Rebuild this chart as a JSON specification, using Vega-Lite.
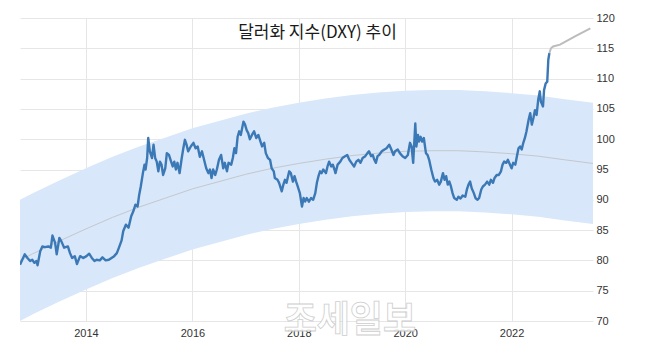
{
  "$schema": "https://vega.github.io/schema/vega-lite/v6.json",
  "autosize": "none",
  "width": 573,
  "height": 303,
  "padding": {"left": 20, "top": 18, "right": 54, "bottom": 34},
  "background": "white",
  "title": {"text": "달러화 지수(DXY) 추이", "orient": "top", "anchor": "middle", "frame": "group", "offset": -30, "dx": 11, "font": "Noto Sans CJK KR", "fontSize": 17, "fontWeight": "normal", "color": "#1a1a1a"},
  "datasets": {
    "band": [
      {"t": 2012.76, "lo": 70.0, "mid": 80.0, "hi": 90.0},
      {"t": 2013.0, "lo": 71.1, "mid": 81.1, "hi": 91.1},
      {"t": 2013.5, "lo": 73.2, "mid": 83.2, "hi": 93.2},
      {"t": 2014.0, "lo": 75.2, "mid": 85.2, "hi": 95.2},
      {"t": 2014.5, "lo": 77.1, "mid": 87.1, "hi": 97.1},
      {"t": 2015.0, "lo": 78.8, "mid": 88.8, "hi": 98.8},
      {"t": 2015.5, "lo": 80.3, "mid": 90.3, "hi": 100.3},
      {"t": 2016.0, "lo": 81.8, "mid": 91.8, "hi": 101.8},
      {"t": 2016.5, "lo": 83.0, "mid": 93.0, "hi": 103.0},
      {"t": 2017.0, "lo": 84.2, "mid": 94.2, "hi": 104.2},
      {"t": 2017.5, "lo": 85.2, "mid": 95.2, "hi": 105.2},
      {"t": 2018.0, "lo": 86.0, "mid": 96.0, "hi": 106.0},
      {"t": 2018.5, "lo": 86.7, "mid": 96.7, "hi": 106.7},
      {"t": 2019.0, "lo": 87.3, "mid": 97.3, "hi": 107.3},
      {"t": 2019.5, "lo": 87.7, "mid": 97.7, "hi": 107.7},
      {"t": 2020.0, "lo": 88.0, "mid": 98.0, "hi": 108.0},
      {"t": 2020.5, "lo": 88.1, "mid": 98.1, "hi": 108.1},
      {"t": 2021.0, "lo": 88.1, "mid": 98.1, "hi": 108.1},
      {"t": 2021.5, "lo": 87.9, "mid": 97.9, "hi": 107.9},
      {"t": 2022.0, "lo": 87.6, "mid": 97.6, "hi": 107.6},
      {"t": 2022.5, "lo": 87.2, "mid": 97.2, "hi": 107.2},
      {"t": 2023.0, "lo": 86.6, "mid": 96.6, "hi": 106.6},
      {"t": 2023.53, "lo": 86.0, "mid": 96.0, "hi": 106.0}
    ],
    "fc": [
      {"t": 2022.71, "v": 114.2},
      {"t": 2022.74, "v": 115.0},
      {"t": 2022.78, "v": 115.3},
      {"t": 2022.91, "v": 115.6},
      {"t": 2023.2, "v": 117.0},
      {"t": 2023.48, "v": 118.3}
    ],
    "dxy": [
      {"t": 2012.76, "v": 79.3}, {"t": 2012.85, "v": 81.0}, {"t": 2012.9, "v": 80.4}, {"t": 2012.95, "v": 79.9},
      {"t": 2012.99, "v": 80.1}, {"t": 2013.03, "v": 79.6}, {"t": 2013.07, "v": 79.9}, {"t": 2013.09, "v": 79.2},
      {"t": 2013.14, "v": 81.5}, {"t": 2013.18, "v": 82.3}, {"t": 2013.23, "v": 82.2}, {"t": 2013.29, "v": 82.3},
      {"t": 2013.34, "v": 82.1}, {"t": 2013.37, "v": 84.1}, {"t": 2013.42, "v": 82.9}, {"t": 2013.45, "v": 81.0},
      {"t": 2013.5, "v": 83.7}, {"t": 2013.54, "v": 83.1}, {"t": 2013.59, "v": 82.1}, {"t": 2013.66, "v": 82.3},
      {"t": 2013.7, "v": 81.2}, {"t": 2013.74, "v": 80.4}, {"t": 2013.79, "v": 80.7}, {"t": 2013.83, "v": 79.4},
      {"t": 2013.89, "v": 80.7}, {"t": 2013.95, "v": 80.4}, {"t": 2014.01, "v": 80.7}, {"t": 2014.06, "v": 81.1},
      {"t": 2014.11, "v": 80.4}, {"t": 2014.16, "v": 79.9}, {"t": 2014.2, "v": 80.1}, {"t": 2014.26, "v": 80.0},
      {"t": 2014.31, "v": 80.5}, {"t": 2014.37, "v": 80.0}, {"t": 2014.43, "v": 80.1}, {"t": 2014.48, "v": 80.4},
      {"t": 2014.53, "v": 80.7}, {"t": 2014.58, "v": 81.2}, {"t": 2014.62, "v": 82.1}, {"t": 2014.67, "v": 83.3},
      {"t": 2014.7, "v": 84.8}, {"t": 2014.75, "v": 85.9}, {"t": 2014.8, "v": 85.4}, {"t": 2014.85, "v": 87.3},
      {"t": 2014.89, "v": 88.1}, {"t": 2014.93, "v": 89.2}, {"t": 2014.97, "v": 88.9}, {"t": 2015.0, "v": 90.8},
      {"t": 2015.03, "v": 92.2}, {"t": 2015.07, "v": 94.4}, {"t": 2015.1, "v": 95.8}, {"t": 2015.12, "v": 95.0},
      {"t": 2015.15, "v": 96.9}, {"t": 2015.17, "v": 100.2}, {"t": 2015.2, "v": 98.0}, {"t": 2015.24, "v": 96.9},
      {"t": 2015.27, "v": 99.1}, {"t": 2015.3, "v": 96.9}, {"t": 2015.33, "v": 96.3}, {"t": 2015.36, "v": 94.7},
      {"t": 2015.39, "v": 96.3}, {"t": 2015.42, "v": 95.8}, {"t": 2015.45, "v": 94.1}, {"t": 2015.49, "v": 95.2},
      {"t": 2015.52, "v": 97.7}, {"t": 2015.56, "v": 97.4}, {"t": 2015.6, "v": 96.3}, {"t": 2015.63, "v": 95.5},
      {"t": 2015.66, "v": 96.3}, {"t": 2015.69, "v": 95.0}, {"t": 2015.72, "v": 96.1}, {"t": 2015.76, "v": 94.4},
      {"t": 2015.8, "v": 96.9}, {"t": 2015.83, "v": 98.5}, {"t": 2015.86, "v": 99.9}, {"t": 2015.89, "v": 99.1},
      {"t": 2015.92, "v": 98.0}, {"t": 2015.97, "v": 98.8}, {"t": 2016.02, "v": 99.4}, {"t": 2016.06, "v": 98.5},
      {"t": 2016.1, "v": 98.8}, {"t": 2016.14, "v": 97.1}, {"t": 2016.18, "v": 98.0}, {"t": 2016.22, "v": 96.6},
      {"t": 2016.26, "v": 95.2}, {"t": 2016.3, "v": 94.4}, {"t": 2016.33, "v": 95.0}, {"t": 2016.36, "v": 93.6},
      {"t": 2016.39, "v": 95.0}, {"t": 2016.43, "v": 94.1}, {"t": 2016.46, "v": 95.0}, {"t": 2016.5, "v": 96.6},
      {"t": 2016.54, "v": 97.4}, {"t": 2016.58, "v": 95.2}, {"t": 2016.61, "v": 96.1}, {"t": 2016.65, "v": 94.7},
      {"t": 2016.68, "v": 96.1}, {"t": 2016.73, "v": 95.8}, {"t": 2016.76, "v": 96.9}, {"t": 2016.79, "v": 98.5},
      {"t": 2016.82, "v": 97.7}, {"t": 2016.85, "v": 100.4}, {"t": 2016.88, "v": 101.3}, {"t": 2016.91, "v": 100.7},
      {"t": 2016.96, "v": 102.9}, {"t": 2016.99, "v": 102.4}, {"t": 2017.02, "v": 101.5}, {"t": 2017.05, "v": 101.0},
      {"t": 2017.08, "v": 100.0}, {"t": 2017.12, "v": 100.7}, {"t": 2017.16, "v": 101.3}, {"t": 2017.2, "v": 100.2},
      {"t": 2017.24, "v": 100.7}, {"t": 2017.28, "v": 99.6}, {"t": 2017.31, "v": 98.8}, {"t": 2017.35, "v": 99.4},
      {"t": 2017.38, "v": 97.7}, {"t": 2017.42, "v": 96.9}, {"t": 2017.46, "v": 96.6}, {"t": 2017.49, "v": 95.2},
      {"t": 2017.53, "v": 94.7}, {"t": 2017.55, "v": 93.6}, {"t": 2017.6, "v": 93.3}, {"t": 2017.63, "v": 92.8},
      {"t": 2017.68, "v": 91.4}, {"t": 2017.71, "v": 92.5}, {"t": 2017.74, "v": 93.3}, {"t": 2017.77, "v": 92.8},
      {"t": 2017.82, "v": 94.7}, {"t": 2017.85, "v": 94.4}, {"t": 2017.89, "v": 93.0}, {"t": 2017.92, "v": 93.9},
      {"t": 2017.95, "v": 93.0}, {"t": 2017.98, "v": 92.2}, {"t": 2018.02, "v": 91.1}, {"t": 2018.06, "v": 88.9},
      {"t": 2018.09, "v": 90.3}, {"t": 2018.12, "v": 89.7}, {"t": 2018.15, "v": 90.3}, {"t": 2018.19, "v": 89.7},
      {"t": 2018.23, "v": 90.3}, {"t": 2018.27, "v": 90.0}, {"t": 2018.31, "v": 91.1}, {"t": 2018.34, "v": 92.8},
      {"t": 2018.37, "v": 93.9}, {"t": 2018.4, "v": 94.7}, {"t": 2018.43, "v": 94.4}, {"t": 2018.46, "v": 95.0},
      {"t": 2018.51, "v": 94.4}, {"t": 2018.54, "v": 95.5}, {"t": 2018.57, "v": 96.3}, {"t": 2018.61, "v": 95.5},
      {"t": 2018.64, "v": 95.8}, {"t": 2018.67, "v": 95.0}, {"t": 2018.69, "v": 94.4}, {"t": 2018.73, "v": 95.8},
      {"t": 2018.78, "v": 96.3}, {"t": 2018.82, "v": 96.9}, {"t": 2018.87, "v": 97.2}, {"t": 2018.91, "v": 97.4},
      {"t": 2018.95, "v": 96.6}, {"t": 2018.99, "v": 96.1}, {"t": 2019.04, "v": 95.5}, {"t": 2019.08, "v": 96.3},
      {"t": 2019.12, "v": 96.6}, {"t": 2019.16, "v": 96.1}, {"t": 2019.2, "v": 96.9}, {"t": 2019.25, "v": 97.2},
      {"t": 2019.29, "v": 97.7}, {"t": 2019.32, "v": 98.0}, {"t": 2019.36, "v": 97.2}, {"t": 2019.39, "v": 97.4},
      {"t": 2019.42, "v": 96.6}, {"t": 2019.45, "v": 96.1}, {"t": 2019.48, "v": 97.2}, {"t": 2019.51, "v": 97.4},
      {"t": 2019.56, "v": 98.0}, {"t": 2019.61, "v": 98.3}, {"t": 2019.65, "v": 98.5}, {"t": 2019.7, "v": 99.1},
      {"t": 2019.73, "v": 98.5}, {"t": 2019.78, "v": 97.4}, {"t": 2019.81, "v": 98.0}, {"t": 2019.86, "v": 98.3},
      {"t": 2019.9, "v": 97.7}, {"t": 2019.95, "v": 97.2}, {"t": 2020.0, "v": 96.9}, {"t": 2020.05, "v": 97.4},
      {"t": 2020.09, "v": 99.4}, {"t": 2020.12, "v": 98.8}, {"t": 2020.15, "v": 96.1}, {"t": 2020.19, "v": 102.6},
      {"t": 2020.21, "v": 98.8}, {"t": 2020.24, "v": 100.7}, {"t": 2020.26, "v": 99.6}, {"t": 2020.29, "v": 100.4},
      {"t": 2020.32, "v": 99.6}, {"t": 2020.35, "v": 100.2}, {"t": 2020.39, "v": 97.7}, {"t": 2020.42, "v": 97.4},
      {"t": 2020.45, "v": 96.6}, {"t": 2020.49, "v": 95.0}, {"t": 2020.53, "v": 93.6}, {"t": 2020.56, "v": 93.0},
      {"t": 2020.6, "v": 93.3}, {"t": 2020.64, "v": 92.5}, {"t": 2020.67, "v": 93.0}, {"t": 2020.71, "v": 94.4},
      {"t": 2020.74, "v": 93.3}, {"t": 2020.77, "v": 93.9}, {"t": 2020.8, "v": 92.5}, {"t": 2020.83, "v": 93.0},
      {"t": 2020.86, "v": 92.2}, {"t": 2020.89, "v": 91.1}, {"t": 2020.92, "v": 90.3}, {"t": 2020.97, "v": 90.0},
      {"t": 2021.0, "v": 90.5}, {"t": 2021.04, "v": 90.2}, {"t": 2021.08, "v": 90.7}, {"t": 2021.13, "v": 90.5},
      {"t": 2021.16, "v": 91.7}, {"t": 2021.19, "v": 92.5}, {"t": 2021.22, "v": 93.0}, {"t": 2021.25, "v": 91.9},
      {"t": 2021.29, "v": 91.1}, {"t": 2021.32, "v": 90.3}, {"t": 2021.36, "v": 90.0}, {"t": 2021.39, "v": 90.3},
      {"t": 2021.43, "v": 91.7}, {"t": 2021.46, "v": 92.2}, {"t": 2021.5, "v": 92.5}, {"t": 2021.54, "v": 93.0},
      {"t": 2021.58, "v": 92.5}, {"t": 2021.61, "v": 93.3}, {"t": 2021.65, "v": 92.8}, {"t": 2021.68, "v": 93.6},
      {"t": 2021.72, "v": 94.1}, {"t": 2021.76, "v": 94.1}, {"t": 2021.8, "v": 94.7}, {"t": 2021.83, "v": 95.8},
      {"t": 2021.86, "v": 96.3}, {"t": 2021.9, "v": 96.1}, {"t": 2021.93, "v": 96.6}, {"t": 2021.97, "v": 95.8},
      {"t": 2022.0, "v": 95.2}, {"t": 2022.03, "v": 96.1}, {"t": 2022.07, "v": 95.8}, {"t": 2022.1, "v": 97.2},
      {"t": 2022.13, "v": 98.5}, {"t": 2022.16, "v": 98.8}, {"t": 2022.19, "v": 98.3}, {"t": 2022.22, "v": 99.4},
      {"t": 2022.25, "v": 100.2}, {"t": 2022.28, "v": 101.3}, {"t": 2022.32, "v": 103.2}, {"t": 2022.35, "v": 104.3},
      {"t": 2022.38, "v": 102.4}, {"t": 2022.41, "v": 103.5}, {"t": 2022.44, "v": 104.8}, {"t": 2022.47, "v": 104.0},
      {"t": 2022.5, "v": 106.5}, {"t": 2022.53, "v": 107.9}, {"t": 2022.55, "v": 106.2}, {"t": 2022.59, "v": 105.4},
      {"t": 2022.61, "v": 108.1}, {"t": 2022.64, "v": 109.2}, {"t": 2022.67, "v": 109.5}, {"t": 2022.69, "v": 113.1},
      {"t": 2022.71, "v": 114.2}
    ],
    "wm": [{"t": 2018.96, "v": 70, "label": "조세일보"}]
  },
  "layer": [
    {
      "data": {"name": "band"},
      "mark": {"type": "area", "color": "#d8e7f9", "opacity": 1, "clip": true},
      "encoding": {
        "x": {"field": "t", "type": "quantitative", "scale": {"domain": [2012.76, 2023.53], "nice": false, "zero": false},
              "axis": {"values": [2014, 2016, 2018, 2020, 2022], "format": "d", "grid": true, "labelPadding": 6, "labelFlush": false, "labelOverlap": false}},
        "y": {"field": "lo", "type": "quantitative", "scale": {"domain": [70, 120], "nice": false, "zero": false},
              "axis": {"orient": "right", "values": [70, 75, 80, 85, 90, 95, 100, 105, 110, 115, 120], "tickCount": 11, "grid": true, "labelPadding": 3, "labelFlush": false, "labelOverlap": false}},
        "y2": {"field": "hi"}
      }
    },
    {
      "data": {"name": "band"},
      "mark": {"type": "line", "color": "#c4c8cd", "strokeWidth": 1, "clip": true},
      "encoding": {
        "x": {"field": "t", "type": "quantitative",
              "axis": {"values": [2014, 2016, 2018, 2020, 2022], "format": "d", "grid": true, "labelPadding": 6, "labelFlush": false, "labelOverlap": false}},
        "y": {"field": "mid", "type": "quantitative",
              "axis": {"orient": "right", "values": [70, 75, 80, 85, 90, 95, 100, 105, 110, 115, 120], "tickCount": 11, "grid": true, "labelPadding": 3, "labelFlush": false, "labelOverlap": false}}
      }
    },
    {
      "data": {"name": "fc"},
      "mark": {"type": "line", "color": "#bcbcbc", "strokeWidth": 2, "clip": true},
      "encoding": {
        "x": {"field": "t", "type": "quantitative",
              "axis": {"values": [2014, 2016, 2018, 2020, 2022], "format": "d", "grid": true, "labelPadding": 6, "labelFlush": false, "labelOverlap": false}},
        "y": {"field": "v", "type": "quantitative",
              "axis": {"orient": "right", "values": [70, 75, 80, 85, 90, 95, 100, 105, 110, 115, 120], "tickCount": 11, "grid": true, "labelPadding": 3, "labelFlush": false, "labelOverlap": false}}
      }
    },
    {
      "data": {"name": "dxy"},
      "mark": {"type": "line", "color": "#3b78b6", "strokeWidth": 2.4, "strokeJoin": "round", "clip": true},
      "encoding": {
        "x": {"field": "t", "type": "quantitative",
              "axis": {"values": [2014, 2016, 2018, 2020, 2022], "format": "d", "grid": true, "labelPadding": 6, "labelFlush": false, "labelOverlap": false}},
        "y": {"field": "v", "type": "quantitative",
              "axis": {"orient": "right", "values": [70, 75, 80, 85, 90, 95, 100, 105, 110, 115, 120], "tickCount": 11, "grid": true, "labelPadding": 3, "labelFlush": false, "labelOverlap": false}}
      }
    },
    {
      "data": {"name": "wm"},
      "mark": {"type": "text", "font": "Noto Sans CJK KR", "fontSize": 36, "fontWeight": "bold", "fill": "white", "stroke": "#c9c9c9", "strokeWidth": 0.8, "opacity": 0.9, "baseline": "middle", "align": "center"},
      "encoding": {
        "x": {"field": "t", "type": "quantitative",
              "axis": {"values": [2014, 2016, 2018, 2020, 2022], "format": "d", "grid": true, "labelPadding": 6, "labelFlush": false, "labelOverlap": false}},
        "y": {"field": "v", "type": "quantitative",
              "axis": {"orient": "right", "values": [70, 75, 80, 85, 90, 95, 100, 105, 110, 115, 120], "tickCount": 11, "grid": true, "labelPadding": 3, "labelFlush": false, "labelOverlap": false}},
        "text": {"field": "label"}
      }
    }
  ],
  "config": {
    "view": {"stroke": null},
    "axis": {"domain": false, "ticks": false, "title": null, "gridColor": "#e6e6e6", "gridWidth": 1, "labelFont": "Liberation Sans", "labelFontSize": 11, "labelColor": "#333333"}
  }
}
